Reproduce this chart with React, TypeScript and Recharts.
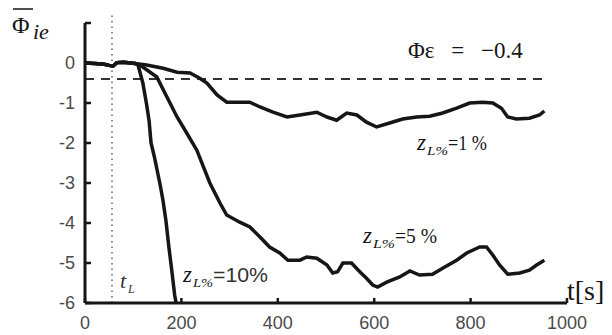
import React from 'react';
import { LineChart, Line, XAxis, YAxis, ReferenceLine } from 'recharts';

const xTicks = [0, 200, 400, 600, 800, 1000];
const yTicks = [1, 0, -1, -2, -3, -4, -5, -6];

const commonT = [0, 20, 40, 50, 58, 66, 80, 95, 104];
const commonV = [0, -0.01, -0.03, -0.06, -0.08, 0.01, 0.02, 0.0, -0.01];

const t10 = [110, 120, 128, 133, 137, 144, 150, 156, 162, 168, 174, 180, 186, 189];
const v10 = [-0.05, -0.5, -1.05, -1.45, -2.0, -2.35, -2.7, -3.05, -3.45, -3.95, -4.6, -5.18, -5.8, -6.0];

const t5 = [120, 149, 170, 191, 211, 232, 259, 280, 294, 321, 342, 363, 383, 404, 421, 446, 460, 481, 502, 514, 524, 535, 553, 570, 584, 597, 607, 626, 653, 674, 694, 721, 742, 771, 792, 819, 833, 846, 860, 877, 902, 922, 937, 953];
const v5 = [-0.1, -0.35, -0.85, -1.35, -1.75, -2.18, -3.0, -3.5, -3.8, -3.98, -4.1, -4.35, -4.6, -4.75, -4.93, -4.93, -4.85, -4.88, -5.05, -5.25, -5.22, -5.0, -5.0, -5.22, -5.38, -5.55, -5.6, -5.48, -5.35, -5.2, -5.3, -5.28, -5.13, -4.93, -4.75, -4.6, -4.6, -4.8, -5.05, -5.28, -5.25, -5.18, -5.05, -4.93];

const t1 = [128, 162, 191, 218, 238, 253, 274, 294, 342, 363, 390, 419, 446, 481, 502, 522, 543, 564, 584, 605, 632, 659, 688, 715, 742, 771, 798, 825, 846, 864, 877, 895, 922, 943, 953];
const v1 = [-0.05, -0.13, -0.23, -0.25, -0.38, -0.5, -0.8, -0.98, -0.98, -1.1, -1.23, -1.35, -1.3, -1.23, -1.35, -1.43, -1.25, -1.3, -1.48, -1.6, -1.5, -1.4, -1.35, -1.33, -1.25, -1.13, -1.0, -0.98, -1.0, -1.13, -1.35, -1.4, -1.38, -1.3, -1.2];

const thresholdValue = -0.4;
const thresholdEnd = 955;
const tL = 56;

const build = (ts: number[], vs: number[]) =>
  [...commonT.map((t, i) => ({ t, v: commonV[i] })), ...ts.map((t, i) => ({ t, v: vs[i] }))];

const data10 = build(t10, v10);
const data5 = build(t5, v5);
const data1 = build(t1, v1);

const LINE = '#161616';
const TICKTXT = '#4a4a4a';
const SANS = "'Liberation Sans', Arial, sans-serif";
const SERIF = "'Liberation Serif', 'Times New Roman', 'DejaVu Serif', serif";

const XTick = (props: any) => {
  const { x, y, payload } = props;
  return (
    <g>
      <line x1={x} x2={x} y1={y} y2={y - 5} stroke={LINE} strokeWidth={2.5} />
      <text x={x} y={y + 20} textAnchor="middle" dominantBaseline="central" fill={TICKTXT} style={{ fontFamily: SANS, fontSize: 18 }}>
        {payload.value}
      </text>
    </g>
  );
};

const YTick = (props: any) => {
  const { x, y, payload } = props;
  return (
    <g>
      <line x1={x} x2={x + 6} y1={y} y2={y} stroke={LINE} strokeWidth={2.5} />
      {payload.value !== 1 && (
        <text x={x - 10} y={y} textAnchor="end" dominantBaseline="central" fill={TICKTXT} style={{ fontFamily: SANS, fontSize: 18 }}>
          {payload.value === 0 ? '0' : '-' + Math.abs(payload.value)}
        </text>
      )}
    </g>
  );
};

const serif = (size: number, italic = false) => ({ fontFamily: SERIF, fontSize: size, fontStyle: italic ? 'italic' : 'normal' });

const ZLabel = ({ x, y, zEnd, subEnd, rest, restEnd, sans }: any) => (
  <g fill="#151515">
    <text x={x} y={y} style={serif(23, true)}>z</text>
    <text x={zEnd} y={y + 5} style={serif(13, true)} textLength={subEnd - zEnd} lengthAdjust="spacingAndGlyphs">L%</text>
    <text x={subEnd} y={y} style={sans ? { fontFamily: SANS, fontSize: 20 } : serif(21)} fill={sans ? '#333' : '#151515'} textLength={restEnd - subEnd} lengthAdjust="spacingAndGlyphs">{rest}</text>
  </g>
);

export default function App() {
  return (
    <div style={{ position: 'absolute', left: 0, top: 0, width: 612, height: 335, background: '#fff' }}>
      <LineChart width={612} height={335} margin={{ top: 23, right: 45, bottom: 0, left: 25 }}>
        <XAxis
          dataKey="t"
          type="number"
          domain={[0, 1000]}
          ticks={xTicks}
          tick={<XTick />}
          tickLine={false}
          tickSize={0}
          tickMargin={0}
          height={32}
          axisLine={{ stroke: LINE, strokeWidth: 3 }}
          allowDuplicatedCategory={false}
        />
        <YAxis
          type="number"
          domain={[-6, 1]}
          ticks={yTicks}
          tick={<YTick />}
          tickLine={false}
          tickSize={0}
          tickMargin={0}
          width={60}
          axisLine={{ stroke: LINE, strokeWidth: 3 }}
          interval={0}
        />
        <ReferenceLine
          segment={[{ x: 0, y: thresholdValue }, { x: thresholdEnd, y: thresholdValue }]}
          stroke="#333"
          strokeWidth={2}
          strokeDasharray="9 7"
        />
        <ReferenceLine
          segment={[{ x: tL, y: -6 }, { x: tL, y: 1.2 }]}
          ifOverflow="visible"
          stroke="#888"
          strokeWidth={2}
          strokeDasharray="1.5 4"
        />
        <Line data={data1} dataKey="v" type="linear" stroke={LINE} strokeWidth={3.5} dot={false} isAnimationActive={false} />
        <Line data={data5} dataKey="v" type="linear" stroke={LINE} strokeWidth={3.5} dot={false} isAnimationActive={false} />
        <Line data={data10} dataKey="v" type="linear" stroke={LINE} strokeWidth={3.5} dot={false} isAnimationActive={false} />
      </LineChart>
      <svg width={612} height={335} style={{ position: 'absolute', left: 0, top: 0, pointerEvents: 'none' }}>
        <line x1={13} x2={33} y1={9} y2={9} stroke="#222" strokeWidth={1.6} />
        <text x={12} y={33} style={serif(24)} fill="#151515">Φ</text>
        <text x={33} y={39} style={serif(22, true)} fill="#151515">ie</text>
        <text x={408} y={58} style={{ ...serif(23), wordSpacing: 11 }} fill="#151515">Φε = −0.4</text>
        <text x={567} y={300} style={serif(28)} fill="#151515">t[s]</text>
        <text x={120} y={288} style={serif(22, true)} fill="#333">t</text>
        <text x={128} y={293} style={serif(12, true)} fill="#333">L</text>
        <ZLabel x={183} y={282} zEnd={193} subEnd={213} rest="=10%" restEnd={268} sans />
        <ZLabel x={363} y={243} zEnd={373} subEnd={395} rest="=5 %" restEnd={437} />
        <ZLabel x={417} y={150} zEnd={427} subEnd={448} rest="=1 %" restEnd={487} />
      </svg>
    </div>
  );
}
